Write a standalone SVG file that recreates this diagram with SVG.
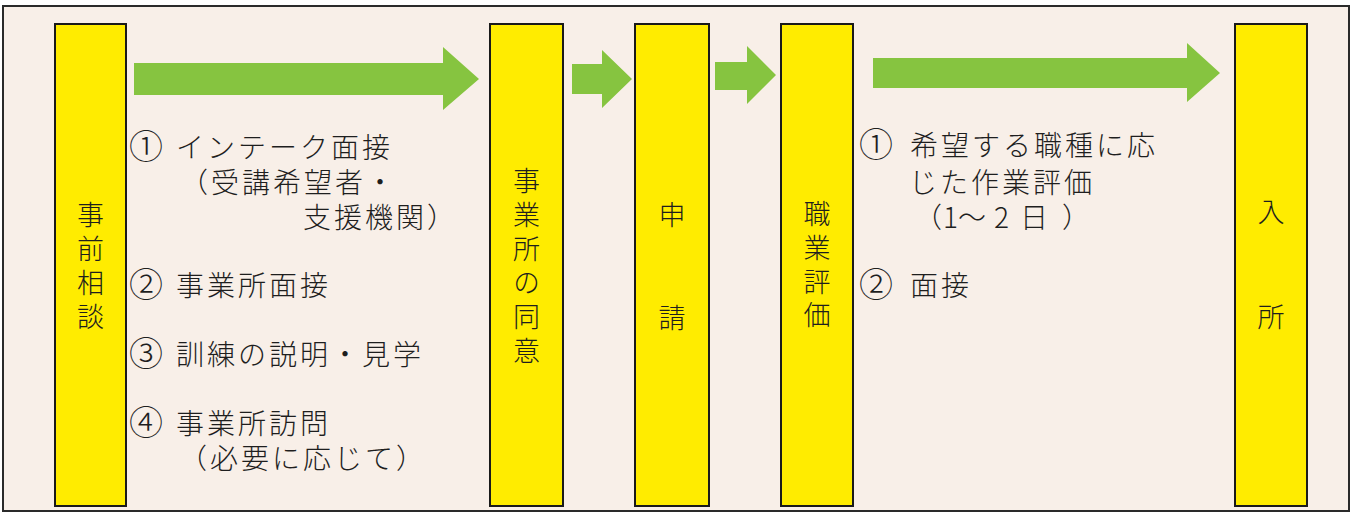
<svg xmlns="http://www.w3.org/2000/svg" width="1355" height="518" viewBox="0 0 1355 518">
<style>
.box{fill:#ffec00;stroke:#1a1a1a;stroke-width:2}
.arrow{fill:#86c440}
text{font-family:"Noto Sans CJK JP","Noto Sans",sans-serif;fill:#1e1e1e;font-weight:300}
.v{font-size:27px;writing-mode:vertical-rl;letter-spacing:7px}
.t{font-size:28px;letter-spacing:3px}
.n{font-size:34px;letter-spacing:0}
</style>
<rect x="0" y="0" width="1355" height="518" fill="#ffffff"/>
<rect x="3" y="6" width="1346" height="505" fill="#f8efe8" stroke="#2a2a2a" stroke-width="2"/>
<g id="connectors">
<polygon class="arrow" points="134,63 443,63 443,47 479,79 443,110 443,95 134,95"/>
<polygon class="arrow" points="572,64 602,64 602,50 632,79 602,108 602,94 572,94"/>
<polygon class="arrow" points="715,62 747,62 747,46 776,75 747,104 747,90 715,90"/>
<polygon class="arrow" points="873,58 1187,58 1187,43 1220,73 1187,102 1187,88 873,88"/>
</g>
<g id="node-jizen">
<rect class="box" x="55" y="24" width="71" height="482"/>
<text class="v" x="90.5" y="201.5">事前相談</text>
</g>
<g id="node-doui">
<rect class="box" x="490" y="24" width="73" height="482"/>
<text class="v" x="526.5" y="167.5">事業所の同意</text>
</g>
<g id="node-shinsei">
<rect class="box" x="635" y="24" width="74" height="482"/>
<text class="v" x="672" y="201.5" style="letter-spacing:76px">申請</text>
</g>
<g id="node-hyoka">
<rect class="box" x="781" y="24" width="72" height="482"/>
<text class="v" x="817" y="200.5" style="letter-spacing:6.7px">職業評価</text>
</g>
<g id="node-nyusho">
<rect class="box" x="1235" y="24" width="72" height="482"/>
<text class="v" x="1271" y="198.5" style="letter-spacing:78px">入所</text>
</g>
<g id="notes-left">
<text class="t"><tspan class="n" x="129" y="159">①</tspan><tspan x="176" y="158">インテーク面接</tspan></text>
<text class="t" x="180" y="193">（受講希望者・</text>
<text class="t" x="303" y="228">支援機関）</text>
<text class="t"><tspan class="n" x="129" y="297">②</tspan><tspan x="176" y="296">事業所面接</tspan></text>
<text class="t"><tspan class="n" x="129" y="366">③</tspan><tspan x="176" y="365">訓練の説明・見学</tspan></text>
<text class="t"><tspan class="n" x="129" y="435">④</tspan><tspan x="176" y="434">事業所訪問</tspan></text>
<text class="t" x="179" y="469">（必要に応じて）</text>
</g>
<g id="notes-right">
<text class="t"><tspan class="n" x="859" y="157">①</tspan><tspan x="910" y="156">希望する職種に応</tspan></text>
<text class="t" x="909" y="193">じた作業評価</text>
<text class="t" x="914 943 958 994 1020 1062" y="228">（1～2日）</text>
<text class="t"><tspan class="n" x="859" y="297">②</tspan><tspan x="910" y="296">面接</tspan></text>
</g>
</svg>
